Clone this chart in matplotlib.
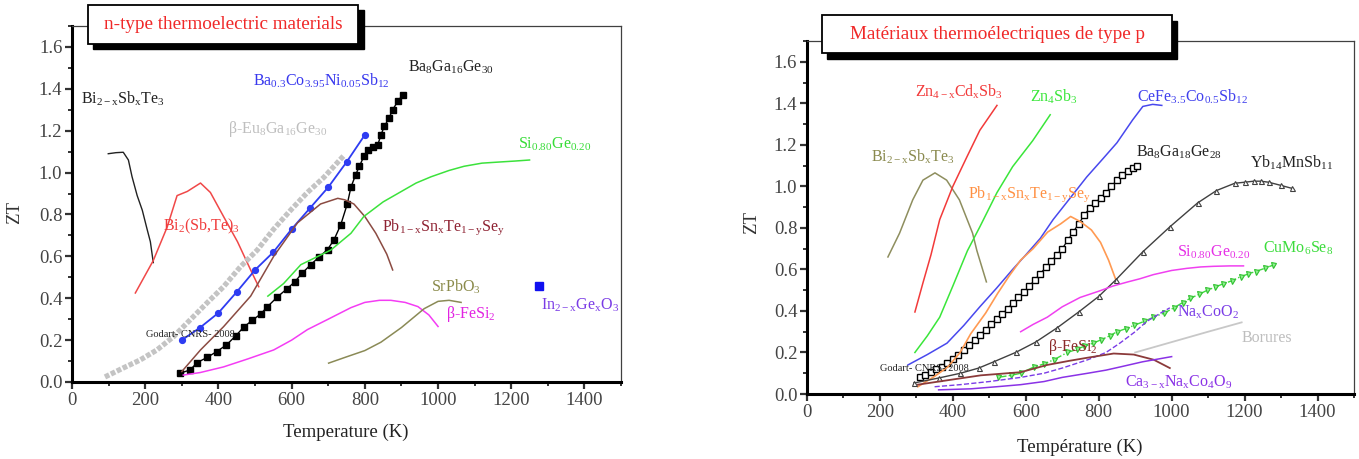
import numpy as np
import matplotlib
matplotlib.use('Agg')
import matplotlib.pyplot as plt
from matplotlib.patches import Rectangle
from matplotlib.ticker import MultipleLocator, FormatStrFormatter

plt.rcParams['font.family'] = ['Liberation Serif', 'DejaVu Serif']
plt.rcParams['mathtext.fontset'] = 'custom'
plt.rcParams['mathtext.rm'] = 'Liberation Serif'
plt.rcParams['mathtext.it'] = 'Liberation Serif:italic'
plt.rcParams['mathtext.bf'] = 'Liberation Serif:bold'

# ---------------- n-type (gauche) ----------------
bst_T = [99, 120, 140, 154, 164, 178, 192, 205, 214, 222]
bst_zt = [1.09, 1.095, 1.097, 1.06, 0.98, 0.89, 0.82, 0.73, 0.67, 0.57]

bisbte_T = [173, 222, 260, 287, 315, 351, 378, 414, 452, 488, 510]
bisbte_zt = [0.425, 0.58, 0.74, 0.89, 0.91, 0.95, 0.905, 0.79, 0.67, 0.535, 0.455]

eu_T = [90, 140, 186, 232, 277, 323, 369, 414, 460, 506, 551, 597, 643, 688, 742]
eu_zt = [0.024, 0.067, 0.105, 0.153, 0.216, 0.297, 0.378, 0.455, 0.55, 0.63, 0.73, 0.82, 0.905, 0.977, 1.08]

baco_T = [300, 350, 400, 450, 500, 550, 600, 650, 700, 750, 800]
baco_zt = [0.20, 0.26, 0.33, 0.43, 0.535, 0.62, 0.73, 0.83, 0.93, 1.05, 1.18]

ba16_T = [296, 323, 342, 369, 395, 422, 447, 469, 492, 515, 533, 561, 588, 609, 629, 652, 675,
          698, 716, 734, 752, 762, 775, 785, 798, 808, 821, 835, 844, 853, 866, 876, 890, 903]
ba16_zt = [0.042, 0.058, 0.093, 0.117, 0.145, 0.177, 0.22, 0.262, 0.294, 0.324, 0.358, 0.406, 0.446,
           0.479, 0.52, 0.56, 0.597, 0.632, 0.68, 0.75, 0.85, 0.93, 0.99, 1.03, 1.08, 1.11, 1.12, 1.13,
           1.18, 1.22, 1.26, 1.30, 1.34, 1.37]

pbn_T = [300, 351, 414, 488, 551, 616, 679, 726, 745, 770, 800, 830, 860, 876]
pbn_zt = [0.05, 0.153, 0.264, 0.41, 0.60, 0.76, 0.85, 0.877, 0.87, 0.85, 0.79, 0.71, 0.61, 0.535]

sige_n_T = [535, 578, 625, 707, 762, 797, 850, 890, 940, 981, 1030, 1071, 1120, 1164, 1210, 1250]
sige_n_zt = [0.41, 0.47, 0.56, 0.63, 0.71, 0.79, 0.86, 0.90, 0.95, 0.98, 1.01, 1.03, 1.045, 1.05, 1.055, 1.06]

fesi_n_T = [304, 350, 414, 480, 551, 600, 643, 700, 762, 800, 840, 871, 910, 945, 975, 1000]
fesi_n_zt = [0.033, 0.045, 0.072, 0.11, 0.153, 0.20, 0.25, 0.30, 0.355, 0.38, 0.39, 0.39, 0.38, 0.36, 0.32, 0.265]

srpb_T = [701, 750, 800, 844, 900, 962, 1000, 1030, 1063]
srpb_zt = [0.09, 0.12, 0.15, 0.19, 0.26, 0.35, 0.385, 0.39, 0.38]

inge_T = [1277]
inge_zt = [0.46]

# ---------------- p-type (droite) ----------------
bst_p_T = [222, 254, 290, 318, 351, 383, 418, 454, 466, 492]
bst_p_zt = [0.66, 0.775, 0.935, 1.03, 1.065, 1.03, 0.935, 0.775, 0.69, 0.54]

zncd_T = [296, 318, 340, 364, 400, 438, 474, 521]
zncd_zt = [0.395, 0.535, 0.67, 0.84, 1.0, 1.14, 1.27, 1.39]

zn_T = [296, 330, 364, 400, 440, 474, 521, 564, 619, 667]
zn_zt = [0.2, 0.28, 0.37, 0.52, 0.69, 0.805, 0.97, 1.095, 1.22, 1.345]

cefe_T = [277, 330, 384, 430, 474, 520, 564, 600, 640, 675, 720, 767, 810, 850, 893, 921, 948, 973]
cefe_zt = [0.14, 0.19, 0.245, 0.33, 0.42, 0.51, 0.6, 0.67, 0.75, 0.84, 0.94, 1.045, 1.13, 1.21,
           1.32, 1.385, 1.395, 1.39]

ba18_T = [310, 325, 340, 355, 370, 385, 400, 415, 430, 445, 460, 475, 490, 505, 520, 535, 550,
          565, 580, 595, 610, 625, 640, 655, 670, 685, 700, 715, 730, 745, 760, 775, 790, 805,
          820, 835, 850, 865, 880, 895, 905]
ba18_zt = [0.08, 0.09, 0.105, 0.12, 0.13, 0.15, 0.17, 0.19, 0.21, 0.235, 0.26, 0.285, 0.31, 0.335,
           0.36, 0.385, 0.41, 0.44, 0.465, 0.49, 0.52, 0.55, 0.58, 0.61, 0.64, 0.67, 0.70, 0.74,
           0.78, 0.82, 0.86, 0.895, 0.92, 0.945, 0.97, 1.0, 1.03, 1.055, 1.075, 1.09, 1.10]

pbp_T = [304, 350, 386, 420, 449, 490, 523, 555, 586, 620, 660, 696, 723, 750, 780, 805, 827, 847]
pbp_zt = [0.035, 0.085, 0.13, 0.2, 0.29, 0.39, 0.485, 0.57, 0.645, 0.70, 0.78, 0.82, 0.855, 0.83,
          0.79, 0.73, 0.645, 0.55]

yb_T = [293, 361, 421, 471, 512, 572, 627, 687, 745, 800, 847, 921, 995, 1071, 1123, 1173, 1200,
        1225, 1244, 1266, 1299, 1331]
yb_zt = [0.053, 0.077, 0.10, 0.125, 0.155, 0.20, 0.25, 0.32, 0.395, 0.47, 0.55, 0.685, 0.805, 0.92,
         0.98, 1.015, 1.02, 1.025, 1.025, 1.02, 1.005, 0.99]

sige_p_T = [586, 620, 659, 700, 749, 800, 839, 880, 913, 950, 1000, 1041, 1080, 1115, 1160, 1197]
sige_p_zt = [0.30, 0.335, 0.37, 0.42, 0.465, 0.495, 0.52, 0.54, 0.555, 0.575, 0.595, 0.605, 0.612,
             0.615, 0.617, 0.617]

cumo_T = [523, 560, 586, 622, 650, 677, 714, 740, 760, 785, 805, 830, 850, 875, 896, 925, 950, 980,
          1006, 1030, 1050, 1075, 1098, 1120, 1140, 1165, 1189, 1210, 1230, 1255, 1277]
cumo_zt = [0.08, 0.09, 0.10, 0.13, 0.145, 0.165, 0.2, 0.215, 0.23, 0.245, 0.26, 0.28, 0.30, 0.315,
           0.33, 0.35, 0.37, 0.39, 0.415, 0.44, 0.46, 0.48, 0.50, 0.515, 0.53, 0.545, 0.565, 0.578,
           0.59, 0.605, 0.62]

naco_T = [350, 420, 500, 586, 650, 700, 770, 820, 858, 900, 932, 970, 995]
naco_zt = [0.035, 0.045, 0.06, 0.08, 0.10, 0.125, 0.165, 0.20, 0.245, 0.30, 0.35, 0.39, 0.415]

bor_T = [900, 1000, 1100, 1192]
bor_zt = [0.20, 0.25, 0.30, 0.345]

fesi_p_T = [304, 400, 477, 586, 659, 720, 770, 841, 896, 951, 995]
fesi_p_zt = [0.045, 0.07, 0.09, 0.105, 0.14, 0.16, 0.175, 0.195, 0.19, 0.165, 0.125]

caco_T = [361, 450, 520, 586, 650, 700, 770, 820, 858, 920, 1000]
caco_zt = [0.02, 0.025, 0.035, 0.045, 0.06, 0.08, 0.10, 0.115, 0.13, 0.155, 0.18]


fig = plt.figure(figsize=(13.59, 4.59), dpi=100)
ax1 = fig.add_axes([0.0530, 0.1678, 0.4040, 0.7756])
ax2 = fig.add_axes([0.5938, 0.1416, 0.4025, 0.7690])


def style(ax):
    ax.set_xlim(0, 1500)
    ax.set_ylim(0, 1.7)
    ax.xaxis.set_major_locator(MultipleLocator(200))
    ax.xaxis.set_minor_locator(MultipleLocator(100))
    ax.yaxis.set_major_locator(MultipleLocator(0.2))
    ax.yaxis.set_minor_locator(MultipleLocator(0.1))
    ax.yaxis.set_major_formatter(FormatStrFormatter('%.1f'))
    ax.set_xticks(range(0, 1401, 200))
    ax.set_yticks(np.arange(0, 1.61, 0.2))
    for s in ['left', 'bottom']:
        ax.spines[s].set_linewidth(2.2)
    for s in ['top', 'right']:
        ax.spines[s].set_linewidth(0.9)
        ax.spines[s].set_color('#404040')
    ax.tick_params(which='major', direction='out', length=5, width=1.6, labelsize=13.5, pad=2,
                   colors='#333333', labelcolor='#444444')
    ax.tick_params(which='minor', direction='out', length=3, width=1.4, colors='#333333')


style(ax1)
style(ax2)

# --- courbes n ---
ax1.plot(bst_T, bst_zt, color='#222222', lw=1.0)
ax1.plot(bisbte_T, bisbte_zt, color='#F04848', lw=1.1)
ax1.plot(eu_T, eu_zt, color='#C4C4C4', lw=3.8, ls=(0, (0.9, 0.35)))
ax1.plot(baco_T, baco_zt, color='#2E3CF2', lw=1.3, marker='o', ms=4.2)
ax1.plot(ba16_T, ba16_zt, color='black', lw=1.0, marker='s', ms=4.2)
ax1.plot(pbn_T, pbn_zt, color='#8B4B42', lw=1.1)
ax1.plot(sige_n_T, sige_n_zt, color='#3CE23C', lw=1.1)
ax1.plot(fesi_n_T, fesi_n_zt, color='#F43CF4', lw=1.1)
ax1.plot(srpb_T, srpb_zt, color='#8A8A56', lw=1.1)
ax1.plot(inge_T, inge_zt, ls='none', marker='s', ms=6, color='#1010F0')

fs = 11.5
ax1.text(140, 1.35, r'Bi$_{\mathrm{2-x}}$Sb$_\mathrm{x}$Te$_3$', color='#222222', fontsize=fs, ha='center', va='center')
ax1.text(562, 1.207, r'$\mathrm{\beta}$-Eu$_8$Ga$_{16}$Ge$_{30}$', color='#BEBEBE', fontsize=fs, ha='center', va='center')
ax1.text(682, 1.437, r'Ba$_{0.3}$Co$_{3.95}$Ni$_{0.05}$Sb$_{12}$', color='#3838EE', fontsize=fs, ha='center', va='center')
ax1.text(1036, 1.504, r'Ba$_8$Ga$_{16}$Ge$_{30}$', color='#222222', fontsize=fs, ha='center', va='center')
ax1.text(1318, 1.135, r'Si$_{0.80}$Ge$_{0.20}$', color='#38DC38', fontsize=fs, ha='center', va='center')
ax1.text(354, 0.742, r'Bi$_2$(Sb,Te)$_3$', color='#F03C3C', fontsize=fs, ha='center', va='center')
ax1.text(1014, 0.738, r'Pb$_{\mathrm{1-x}}$Sn$_\mathrm{x}$Te$_{\mathrm{1-y}}$Se$_\mathrm{y}$', color='#8E2232', fontsize=fs, ha='center', va='center')
ax1.text(1049, 0.455, r'SrPbO$_3$', color='#8A8A4A', fontsize=fs, ha='center', va='center')
ax1.text(1090, 0.326, r'$\mathrm{\beta}$-FeSi$_2$', color='#E224E2', fontsize=fs, ha='center', va='center')
ax1.text(1389, 0.364, r'In$_{\mathrm{2-x}}$Ge$_\mathrm{x}$O$_3$', color='#7A3CE6', fontsize=fs, ha='center', va='center')
ax1.text(323, 0.225, 'Godart- CNRS- 2008', color='#222222', fontsize=7.5, ha='center', va='center')

# --- courbes p ---
ax2.plot(bst_p_T, bst_p_zt, color='#8E8E5E', lw=1.1)
ax2.plot(zncd_T, zncd_zt, color='#F23A3A', lw=1.1)
ax2.plot(zn_T, zn_zt, color='#3AE63A', lw=1.1)
ax2.plot(cefe_T, cefe_zt, color='#4848EE', lw=1.1)
ax2.plot(ba18_T, ba18_zt, color='black', lw=0.9, marker='s', ms=4.2, mfc='white', mew=1.0)
ax2.plot(pbp_T, pbp_zt, color='#FF9A52', lw=1.2)
ax2.plot(yb_T, yb_zt, color='#404040', lw=1.0, marker='^', ms=3.6, mfc='white', mew=0.8)
ax2.plot(sige_p_T, sige_p_zt, color='#F040F0', lw=1.1)
ax2.plot(cumo_T, cumo_zt, color='#3CDC3C', lw=1.0, ls='-.', marker='v', ms=3.6, mfc='#90F090', mec='#30C030', mew=0.8)
ax2.plot(naco_T, naco_zt, color='#7A3CE6', lw=1.0, ls='--')
ax2.plot(bor_T, bor_zt, color='#C8C8C8', lw=1.3)
ax2.plot(fesi_p_T, fesi_p_zt, color='#8B3A3A', lw=1.3)
ax2.plot(caco_T, caco_zt, color='#8A32E6', lw=1.1)

ax2.text(418, 1.455, r'Zn$_{\mathrm{4-x}}$Cd$_\mathrm{x}$Sb$_3$', color='#F23A3A', fontsize=fs, ha='center', va='center')
ax2.text(678, 1.43, r'Zn$_4$Sb$_3$', color='#3AE63A', fontsize=fs, ha='center', va='center')
ax2.text(1057, 1.43, r'CeFe$_{3.5}$Co$_{0.5}$Sb$_{12}$', color='#4040EE', fontsize=fs, ha='center', va='center')
ax2.text(290, 1.142, r'Bi$_{\mathrm{2-x}}$Sb$_\mathrm{x}$Te$_3$', color='#8A8A4E', fontsize=fs, ha='center', va='center')
ax2.text(609, 0.96, r'Pb$_{\mathrm{1-x}}$Sn$_\mathrm{x}$Te$_{\mathrm{1-y}}$Se$_\mathrm{y}$', color='#FF9042', fontsize=fs, ha='center', va='center')
ax2.text(1019, 1.166, r'Ba$_8$Ga$_{18}$Ge$_{28}$', color='#222222', fontsize=fs, ha='center', va='center')
ax2.text(1328, 1.113, r'Yb$_{14}$MnSb$_{11}$', color='#222222', fontsize=fs, ha='center', va='center')
ax2.text(1115, 0.684, r'Si$_{0.80}$Ge$_{0.20}$', color='#E630E6', fontsize=fs, ha='center', va='center')
ax2.text(1347, 0.704, r'CuMo$_6$Se$_8$', color='#3CDC3C', fontsize=fs, ha='center', va='center')
ax2.text(1101, 0.395, r'Na$_\mathrm{x}$CoO$_2$', color='#7A3CE6', fontsize=fs, ha='center', va='center')
ax2.text(1260, 0.27, 'Borures', color='#BEBEBE', fontsize=fs, ha='center', va='center')
ax2.text(730, 0.227, r'$\mathrm{\beta}$-FeSi$_2$', color='#8B2A2A', fontsize=fs, ha='center', va='center')
ax2.text(1019, 0.058, r'Ca$_{\mathrm{3-x}}$Na$_\mathrm{x}$Co$_4$O$_9$', color='#8A32E6', fontsize=fs, ha='center', va='center')
ax2.text(322, 0.125, 'Godart- CNRS- 2008', color='#222222', fontsize=7.5, ha='center', va='center')

# axes labels
fig.text(0.011, 0.536, 'ZT', rotation=90, fontsize=13.5, ha='center', va='center', color='#333333')
fig.text(0.553, 0.516, 'ZT', rotation=90, fontsize=13.5, ha='center', va='center', color='#333333')
fig.text(0.2546, 0.0588, 'Temperature (K)', fontsize=13.5, ha='center', va='center', color='#222222')
fig.text(0.7947, 0.026, 'Température (K)', fontsize=13.5, ha='center', va='center', color='#222222')

# encadrés de titre avec ombre
for (x0, y0, w, h, dx, dy, txt) in [
        (0.0648, 0.9041, 0.1987, 0.0850, 0.0040, 0.0110, 'n-type thermoelectric materials'),
        (0.6049, 0.8845, 0.2575, 0.0828, 0.0040, 0.0130, 'Matériaux thermoélectriques de type p')]:
    fig.patches.append(Rectangle((x0 + dx, y0 - dy), w, h, transform=fig.transFigure,
                                 facecolor='black', edgecolor='black', zorder=5))
    fig.patches.append(Rectangle((x0, y0), w, h, transform=fig.transFigure,
                                 facecolor='white', edgecolor='black', lw=1.3, zorder=6))
    fig.text(x0 + w / 2, y0 + h / 2, txt, color='#F02828', fontsize=13.8,
             ha='center', va='center', zorder=7)

fig.savefig('out.png', dpi=100)
